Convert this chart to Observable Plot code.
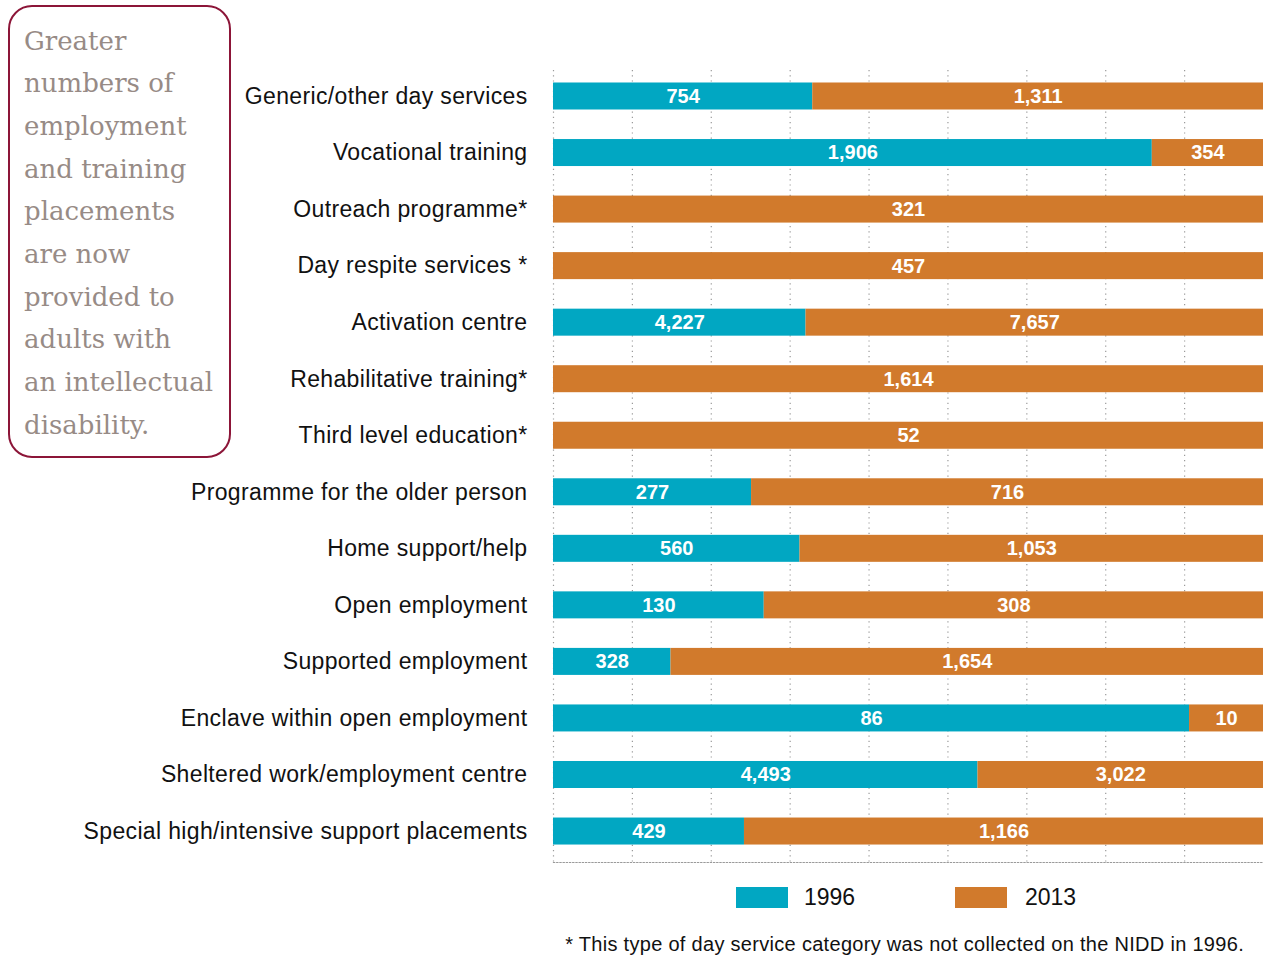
<!DOCTYPE html>
<html><head><meta charset="utf-8">
<script src="https://cdn.jsdelivr.net/npm/d3@7"></script>
<script src="https://cdn.jsdelivr.net/npm/@observablehq/plot@0.6"></script>
<style>
body{margin:0;background:#fff;}
#wrap{position:relative;width:1263px;height:955px;overflow:hidden;font-family:"Liberation Sans",Arial,sans-serif;color:#111;}
#chart{position:absolute;left:0;top:0;}
#chart g[aria-label="y-axis tick label"]{letter-spacing:0.35px;}
#note{position:absolute;left:8px;top:5px;width:223px;height:453px;box-sizing:border-box;border:2.5px solid #8c1538;border-radius:24px;padding:12.5px 0 0 14px;font-family:"DejaVu Serif",serif;font-size:26px;line-height:42.7px;color:#978b86;}
.sw{position:absolute;width:52px;height:21px;top:887px;}
.lg{position:absolute;top:884px;font-size:23px;line-height:26px;}
#foot{position:absolute;right:19px;top:933px;font-size:20px;letter-spacing:0.3px;line-height:22px;}
</style></head>
<body><div id="wrap">
<div id="chart"></div>
<div id="note">Greater<br>numbers of<br>employment<br>and training<br>placements<br>are now<br>provided to<br>adults with<br>an intellectual<br>disability.</div>
<div class="sw" style="left:736px;background:#01a7c2"></div><div class="lg" style="left:804px">1996</div>
<div class="sw" style="left:955px;background:#d17a2c"></div><div class="lg" style="left:1025px">2013</div>
<div id="foot">* This type of day service category was not collected on the NIDD in 1996.</div>
</div>
<script>
const categories = [
  "Generic/other day services",
  "Vocational training",
  "Outreach programme*",
  "Day respite services *",
  "Activation centre",
  "Rehabilitative training*",
  "Third level education*",
  "Programme for the older person",
  "Home support/help",
  "Open employment",
  "Supported employment",
  "Enclave within open employment",
  "Sheltered work/employment centre",
  "Special high/intensive support placements"
];
const v1996 = [754, 1906, 0, 0, 4227, 0, 0, 277, 560, 130, 328, 86, 4493, 429];
const v2013 = [1311, 354, 321, 457, 7657, 1614, 52, 716, 1053, 308, 1654, 10, 3022, 1166];
const years = ["1996", "2013"];
const colors = ["#01a7c2", "#d17a2c"];
const gridTicks = d3.range(0, 9).map(i => i / 9);

const data = categories.flatMap((c, i) => [
  {category: c, year: years[0], value: v1996[i]},
  {category: c, year: years[1], value: v2013[i]}
]);
const fmt = d3.format(",");

const chart = Plot.plot({
  width: 1263, height: 870,
  marginLeft: 553, marginRight: 0, marginTop: 70, marginBottom: 8,
  style: {fontFamily: "Liberation Sans, Arial, sans-serif", fontSize: "20px", color: "#111", background: "transparent"},
  x: {domain: [0, 1], axis: null},
  y: {domain: categories, paddingInner: 0.5225, paddingOuter: 0.265, align: 0.417, round: false, axis: null},
  color: {domain: years, range: colors},
  marks: [
    Plot.ruleX(gridTicks, {stroke: "#9a9a9a", strokeWidth: 1.2, strokeDasharray: "1.2,4"}),
    Plot.frame({anchor: "bottom", stroke: "#9a9a9a", strokeWidth: 1.2, strokeDasharray: "1.2,2"}),
    Plot.barX(data, Plot.stackX({x: "value", y: "category", fill: "year", offset: "normalize"})),
    Plot.text(data, Plot.stackX({x: "value", y: "category", z: "year", offset: "normalize",
      text: d => d.value ? fmt(d.value) : "", fill: "white", fontWeight: "bold", fontSize: 20})),
    Plot.axisY({tickSize: 0, tickPadding: 26, label: null, fontSize: 23})
  ]
});
document.getElementById("chart").appendChild(chart);
</script>
</body></html>
